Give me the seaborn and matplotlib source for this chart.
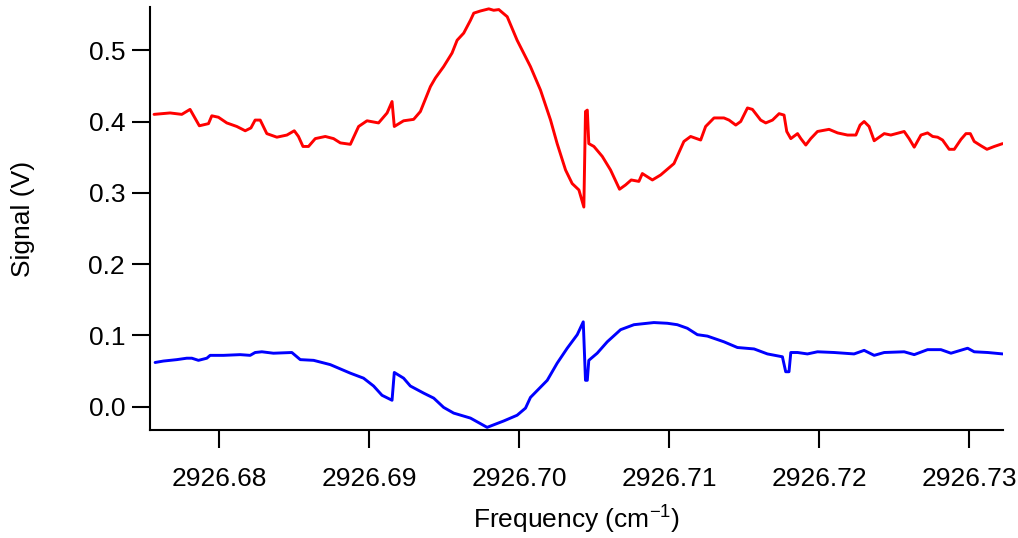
import numpy as np
import matplotlib
matplotlib.use("Agg")
import matplotlib.pyplot as plt
import matplotlib.ticker as mticker
import seaborn as sns
import pandas as pd

# red trace (upper)
red_freq = [2926.67566, 2926.67673, 2926.67751, 2926.67806, 2926.67868, 2926.67929, 2926.67951,
            2926.67995, 2926.68051, 2926.68118, 2926.68174, 2926.68212, 2926.68240, 2926.68274,
            2926.68318, 2926.68385, 2926.68452, 2926.68501, 2926.68529, 2926.68559, 2926.68596,
            2926.68641, 2926.68708, 2926.68763, 2926.68808, 2926.68875, 2926.68930, 2926.68986,
            2926.69063, 2926.69120, 2926.69153, 2926.69168, 2926.69230, 2926.69297, 2926.69342,
            2926.69409, 2926.69442, 2926.69497, 2926.69553, 2926.69587, 2926.69631, 2926.69676,
            2926.69698, 2926.69742, 2926.69798, 2926.69831, 2926.69865, 2926.69921, 2926.69987,
            2926.70076, 2926.70143, 2926.70210, 2926.70254, 2926.70310, 2926.70354, 2926.70399,
            2926.70432, 2926.70443, 2926.70455, 2926.70465, 2926.70499, 2926.70555, 2926.70610,
            2926.70670, 2926.70710, 2926.70748, 2926.70799, 2926.70822, 2926.70889, 2926.70944,
            2926.71033, 2926.71099, 2926.71144, 2926.71211, 2926.71244, 2926.71300, 2926.71366,
            2926.71400, 2926.71445, 2926.71478, 2926.71523, 2926.71556, 2926.71611, 2926.71645,
            2926.71690, 2926.71734, 2926.71767, 2926.71785, 2926.71812, 2926.71857, 2926.71879,
            2926.71912, 2926.71945, 2926.71990, 2926.72067, 2926.72124, 2926.72190, 2926.72246,
            2926.72274, 2926.72301, 2926.72334, 2926.72368, 2926.72435, 2926.72479, 2926.72568,
            2926.72601, 2926.72635, 2926.72680, 2926.72724, 2926.72758, 2926.72791, 2926.72824,
            2926.72868, 2926.72902, 2926.72947, 2926.72980, 2926.73009, 2926.73035, 2926.73080,
            2926.73120, 2926.73169, 2926.73225]
red_signal = [0.410, 0.412, 0.410, 0.417, 0.394, 0.397, 0.408,
              0.406, 0.398, 0.393, 0.387, 0.391, 0.402, 0.402,
              0.383, 0.378, 0.381, 0.387, 0.379, 0.365, 0.365,
              0.376, 0.379, 0.376, 0.370, 0.368, 0.393, 0.401,
              0.398, 0.412, 0.428, 0.393, 0.401, 0.403, 0.414,
              0.449, 0.461, 0.477, 0.496, 0.514, 0.524, 0.542,
              0.552, 0.555, 0.558, 0.556, 0.557, 0.547, 0.514,
              0.477, 0.444, 0.402, 0.369, 0.332, 0.313, 0.304,
              0.280, 0.414, 0.416, 0.369, 0.365, 0.351, 0.332,
              0.305, 0.311, 0.318, 0.316, 0.327, 0.318, 0.325,
              0.341, 0.372, 0.379, 0.374, 0.393, 0.405, 0.405,
              0.402, 0.395, 0.400, 0.419, 0.417, 0.402, 0.398,
              0.402, 0.411, 0.409, 0.386, 0.376, 0.383, 0.376,
              0.367, 0.376, 0.386, 0.389, 0.384, 0.381, 0.381,
              0.395, 0.400, 0.393, 0.373, 0.383, 0.381, 0.386,
              0.376, 0.364, 0.381, 0.384, 0.379, 0.378, 0.374,
              0.361, 0.361, 0.375, 0.383, 0.383, 0.372, 0.366,
              0.361, 0.365, 0.369]

# blue trace (lower)
blue_freq = [2926.67573, 2926.67628, 2926.67718, 2926.67784, 2926.67818, 2926.67862, 2926.67918,
             2926.67940, 2926.68029, 2926.68140, 2926.68207, 2926.68240, 2926.68285, 2926.68362,
             2926.68485, 2926.68541, 2926.68630, 2926.68741, 2926.68808, 2926.68875, 2926.68963,
             2926.69030, 2926.69086, 2926.69153, 2926.69168, 2926.69230, 2926.69275, 2926.69364,
             2926.69431, 2926.69497, 2926.69564, 2926.69676, 2926.69787, 2926.69898, 2926.69987,
             2926.70043, 2926.70076, 2926.70188, 2926.70254, 2926.70321, 2926.70388, 2926.70428,
             2926.70443, 2926.70455, 2926.70465, 2926.70521, 2926.70588, 2926.70677, 2926.70766,
             2926.70899, 2926.70989, 2926.71055, 2926.71122, 2926.71189, 2926.71256, 2926.71366,
             2926.71456, 2926.71567, 2926.71656, 2926.71756, 2926.71778, 2926.71800, 2926.71812,
             2926.71857, 2926.71923, 2926.71990, 2926.72101, 2926.72234, 2926.72301, 2926.72368,
             2926.72435, 2926.72568, 2926.72635, 2926.72724, 2926.72813, 2926.72880, 2926.72991,
             2926.73035, 2926.73125, 2926.73225]
blue_signal = [0.062, 0.064, 0.066, 0.068, 0.068, 0.065, 0.068,
               0.072, 0.072, 0.073, 0.072, 0.076, 0.077, 0.075,
               0.076, 0.066, 0.065, 0.059, 0.053, 0.047, 0.040,
               0.029, 0.016, 0.009, 0.048, 0.040, 0.029, 0.019,
               0.012, -0.001, -0.009, -0.016, -0.029, -0.020, -0.012,
               -0.002, 0.013, 0.037, 0.061, 0.082, 0.101, 0.119,
               0.037, 0.037, 0.065, 0.075, 0.091, 0.108, 0.115,
               0.118, 0.117, 0.115, 0.110, 0.101, 0.099, 0.091,
               0.083, 0.081, 0.074, 0.070, 0.049, 0.049, 0.076,
               0.076, 0.074, 0.077, 0.076, 0.074, 0.079, 0.072,
               0.076, 0.077, 0.073, 0.080, 0.080, 0.075, 0.082,
               0.077, 0.076, 0.074]

x_ticks = [2926.68, 2926.69, 2926.70, 2926.71, 2926.72, 2926.73]
y_ticks = [0.0, 0.1, 0.2, 0.3, 0.4, 0.5]

sns.set_style("ticks")
plt.rcParams['font.family'] = ['Liberation Sans', 'DejaVu Sans']
plt.rcParams['mathtext.fontset'] = 'custom'
plt.rcParams['mathtext.rm'] = 'Liberation Sans'
plt.rcParams['mathtext.it'] = 'Liberation Sans'

fig = plt.figure(figsize=(10.18, 5.38), dpi=100)
ax = fig.add_axes([150 / 1018, 1 - 430 / 538, 853 / 1018, 423 / 538])

red_df = pd.DataFrame({"freq": red_freq, "signal": red_signal})
blue_df = pd.DataFrame({"freq": blue_freq, "signal": blue_signal})
sns.lineplot(data=red_df, x="freq", y="signal", color="#ff0000", lw=2.1, ax=ax, sort=False)
sns.lineplot(data=blue_df, x="freq", y="signal", color="#0000ff", lw=2.1, ax=ax, sort=False)

ax.set_xlim(2926.67539, 2926.73227)
ax.set_ylim(-0.0327, 0.5606)
ax.set_xticks(x_ticks)
ax.set_yticks(y_ticks)
ax.xaxis.set_major_formatter(mticker.FormatStrFormatter('%.2f'))
ax.yaxis.set_major_formatter(mticker.FormatStrFormatter('%.1f'))

for s in ["top", "right"]:
    ax.spines[s].set_visible(False)
for s in ["left", "bottom"]:
    ax.spines[s].set_linewidth(1.5)
    ax.spines[s].set_color("black")
ax.tick_params(axis="both", direction="out", length=13, width=1.5, labelsize=19, colors="black")
ax.tick_params(axis="x", pad=14)
ax.tick_params(axis="y", pad=5)

ax.set_xlabel("Frequency (cm$^{\\mathregular{-1}}$)", fontsize=19, color="black")
ax.set_ylabel("Signal (V)", fontsize=19, color="black")
ax.xaxis.set_label_coords(0.5, -0.175)
ax.yaxis.set_label_coords(-0.135, 0.5)
ax.grid(False)

fig.savefig("out.png", dpi=100)
